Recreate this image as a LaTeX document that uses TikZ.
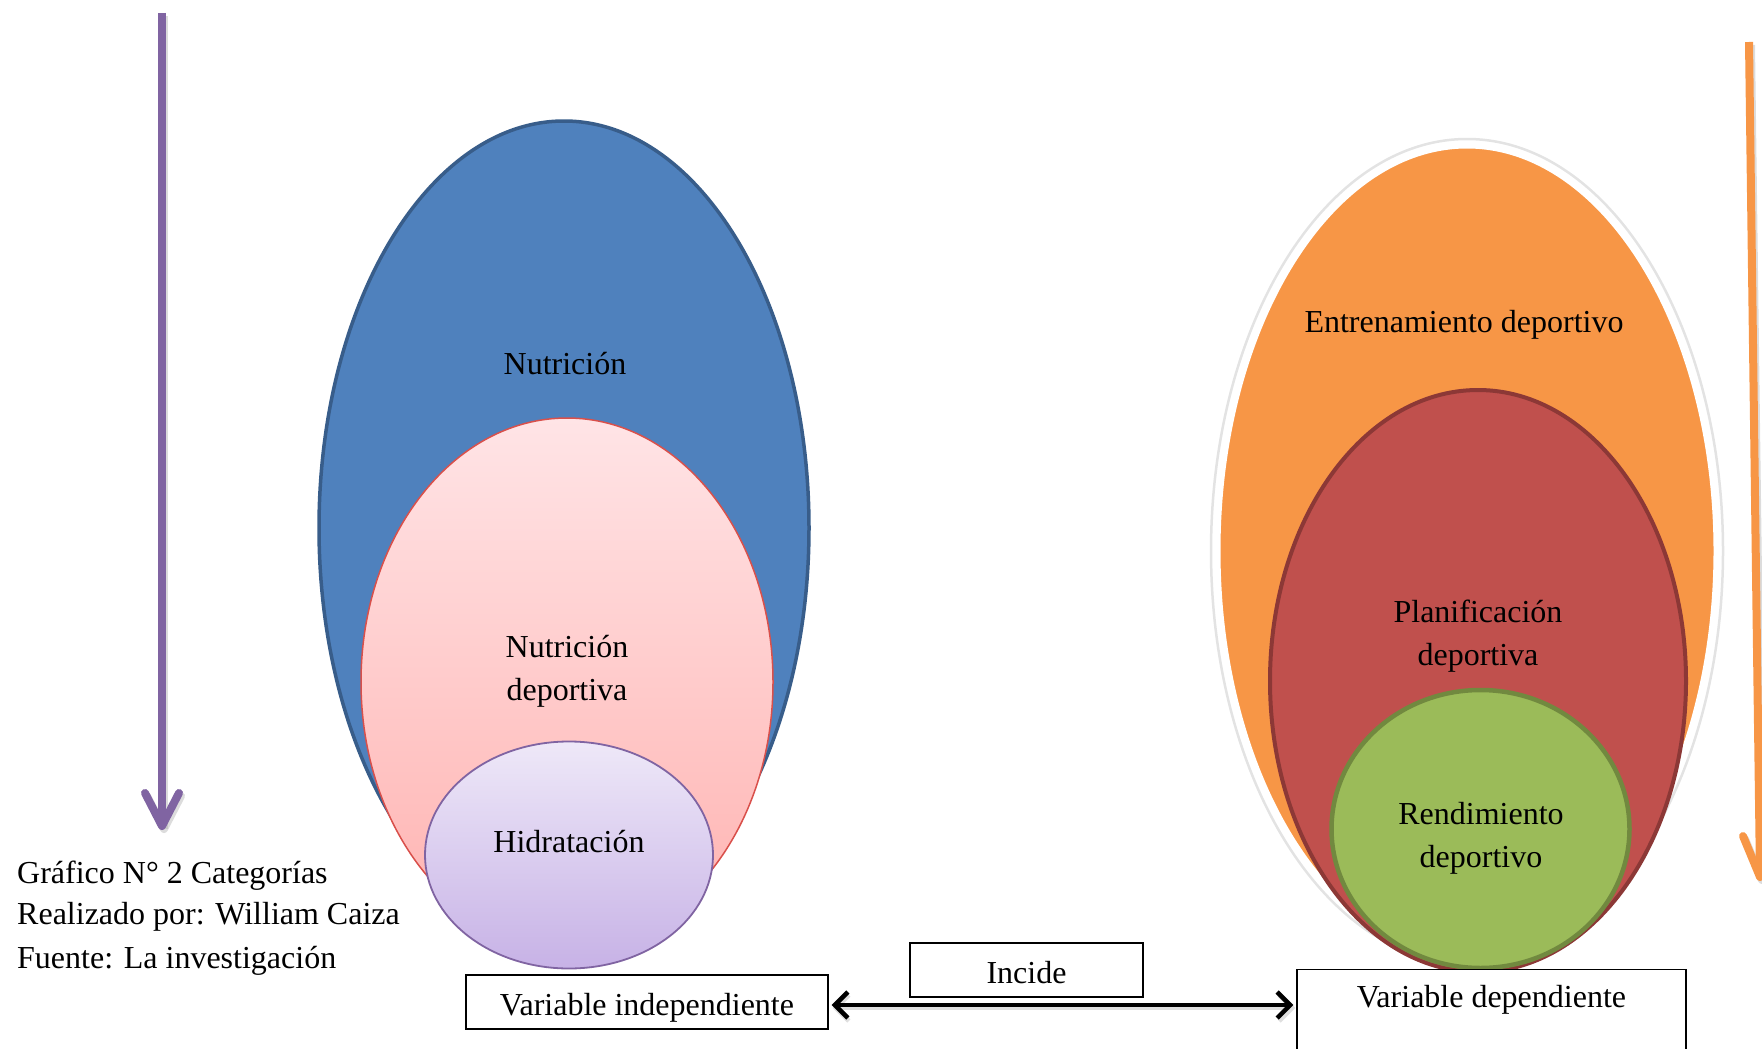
\documentclass[tikz,border=0pt]{standalone}
\usepackage{fontspec}
\setmainfont{Liberation Serif}
\usetikzlibrary{shapes.geometric,arrows.meta}

\definecolor{blueFill}{HTML}{4F81BD}
\definecolor{blueLine}{HTML}{385D8A}
\definecolor{pinkTop}{HTML}{FFE4E6}
\definecolor{pinkBot}{HTML}{FFB2B0}
\definecolor{pinkLine}{HTML}{D9504B}
\definecolor{lavTop}{HTML}{EEE8F8}
\definecolor{lavBot}{HTML}{C7B2E6}
\definecolor{lavLine}{HTML}{8064A2}
\definecolor{orangeFill}{HTML}{F79646}
\definecolor{redFill}{HTML}{C0504D}
\definecolor{redLine}{HTML}{8C3836}
\definecolor{greenFill}{HTML}{9BBB59}
\definecolor{greenLine}{HTML}{71893F}
\definecolor{purpleArrow}{HTML}{8064A2}

\begin{document}
\begin{tikzpicture}[x=1pt,y=-1pt,
  oval/.style={ellipse, inner sep=0pt, outer sep=0pt},
  lbl/.style={font=\fontsize{32}{43}\selectfont, align=center, inner sep=0pt},
  box/.style={draw=black, line width=1.3pt, fill=white, inner sep=0pt},
  shaft/.style={line width=8pt},
  headv/.style={line width=8pt, line cap=round, line join=round},
  shade/.style={draw=gray!60, opacity=0.45},
]
\clip (0,0) rectangle (1762,1049);

% ---- vertical arrows ----
\begin{scope}[shade]
  \draw[shaft] (164,16) -- (164,829);
  \draw[headv] (147,796) -- (164,829) -- (181,796);
\end{scope}
\draw[shaft, purpleArrow] (162,13) -- (162,826);
\draw[headv, purpleArrow] (145,793) -- (162,826) -- (179,793);

\begin{scope}[shade]
  \draw[shaft] (1751,45) -- (1762,880);
  \draw[headv] (1745,839) -- (1762,880) -- (1778,839);
\end{scope}
\draw[shaft, orangeFill] (1749,42) -- (1760,877);
\draw[headv, orangeFill] (1743,836) -- (1760,877) -- (1776,836);

% ---- independent variable: nested ovals ----
\node[oval, draw=blueLine, line width=3.5pt, fill=blueFill,
      minimum width=490pt, minimum height=814pt] (nut) at (564,528) {};
\node[oval, draw=pinkLine, line width=1.5pt, top color=pinkTop, bottom color=pinkBot,
      minimum width=412pt, minimum height=528pt] (nutdep) at (567,682) {};
\node[oval, draw=lavLine, line width=1.8pt, top color=lavTop, bottom color=lavBot,
      minimum width=288pt, minimum height=227pt] (hid) at (569,855) {};

\node[lbl] (tnut) at (565,364) {Nutrición};
\node[lbl] (tnutdep) at (567,671) {Nutrición\\deportiva};
\node[lbl] (thid) at (569,842) {Hidratación};

% ---- dependent variable: nested ovals ----
\node[oval, draw=gray!22, line width=2.5pt,
      minimum width=512pt, minimum height=824pt] (entglow) at (1467,551) {};
\node[oval, draw=white, line width=7pt, fill=orangeFill,
      minimum width=500pt, minimum height=812pt] (ent) at (1467,551) {};
\node[oval, draw=redLine, line width=4pt, fill=redFill,
      minimum width=416pt, minimum height=582pt] (plan) at (1478,681) {};
\node[oval, draw=greenLine, line width=4.5pt, fill=greenFill,
      minimum width=298pt, minimum height=278pt] (rend) at (1480.5,829) {};

\node[lbl] (tent) at (1464,325) {Entrenamiento deportivo};
\node[lbl] (tplan) at (1478,636) {Planificación\\deportiva};
\node[lbl] (trend) at (1481,838) {Rendimiento\\deportivo};

% ---- caption ----
\node[lbl, anchor=base west] (cap1) at (17,883) {Gráfico N° 2 Categorías};
\node[lbl, anchor=base west] (cap2) at (17,924) {Realizado por: William Caiza};
\node[lbl, anchor=base west] (cap3) at (17,968) {Fuente: La investigación};

% ---- variable boxes and relation ----
\node[box, minimum width=362pt, minimum height=54pt] (vi) at (647,1002) {};
\node[lbl] (tvi) at (647,1008) {Variable independiente};

\node[box, minimum width=233pt, minimum height=54pt] (inc) at (1026.5,970) {};
\node[lbl] (tinc) at (1026.5,973) {Incide};

\node[box, minimum width=389pt, minimum height=120pt, anchor=north] (vd) at (1491.5,969) {};
\node[lbl, anchor=base] (tvd) at (1491.5,1007) {Variable dependiente};

\draw[gray!50, opacity=0.5, line width=4.5pt,
      {Straight Barb[length=13pt,width=26pt]}-{Straight Barb[length=13pt,width=26pt]}]
  ([shift={(4,6)}]vi.east) -- ([shift={(-1,6)}]vi.east -| vd.west);
\draw[black, line width=4.5pt,
      {Straight Barb[length=13pt,width=26pt]}-{Straight Barb[length=13pt,width=26pt]}]
  ([shift={(3,3)}]vi.east) -- ([shift={(-3,3)}]vi.east -| vd.west);
\end{tikzpicture}
\end{document}
